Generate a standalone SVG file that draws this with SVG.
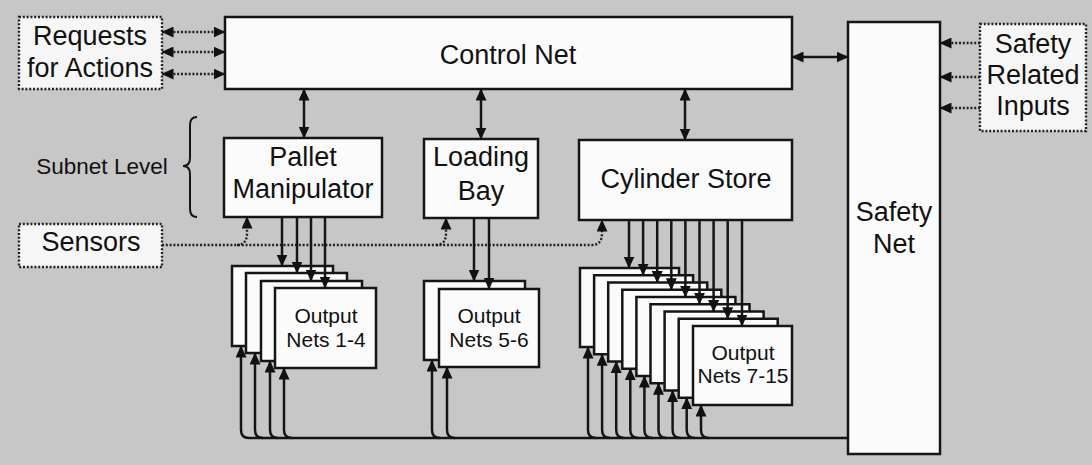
<svg xmlns="http://www.w3.org/2000/svg" width="1092" height="465" viewBox="0 0 1092 465">
<defs>
<marker id="ah" viewBox="0 0 12 11" refX="11.5" refY="5.5" markerWidth="12" markerHeight="11" markerUnits="userSpaceOnUse" orient="auto-start-reverse">
<path d="M0,0 L12,5.5 L0,11 z" fill="#111"/>
</marker>
<style>
.box{fill:#fbfbfb;stroke:#151515;stroke-width:2.5}
.dbox{fill:#f6f6f6;stroke:#222;stroke-width:2.4;stroke-dasharray:2 1.8}
.ln{fill:none;stroke:#151515;stroke-width:2.5}
.dl{fill:none;stroke:#222;stroke-width:2.4;stroke-dasharray:2 1.8}
.t{font-family:"Liberation Sans",Arial,sans-serif;font-size:27px;fill:#111;text-anchor:middle}
.s{font-family:"Liberation Sans",Arial,sans-serif;font-size:21px;fill:#111;text-anchor:middle}
</style>
</defs>
<rect x="0" y="0" width="1092" height="465" fill="#c7c7c7"/>

<g id="control-net"><rect class="box" x="225" y="17" width="567" height="72"/><text class="t" x="508" y="64">Control Net</text></g>
<g id="safety-net"><rect class="box" x="848" y="22" width="92" height="432"/><text class="t" x="894" y="221">Safety</text><text class="t" x="894" y="253">Net</text></g>
<g id="requests"><rect class="dbox" x="19" y="17" width="143" height="72"/><text class="t" x="90" y="45">Requests</text><text class="t" x="90" y="77">for Actions</text></g>
<g id="safety-inputs"><rect class="dbox" x="980" y="24" width="106" height="107"/><text class="t" x="1033" y="53">Safety</text><text class="t" x="1033" y="84">Related</text><text class="t" x="1033" y="115">Inputs</text></g>
<g id="sensors"><rect class="dbox" x="19" y="224" width="143" height="43"/><text class="t" x="91" y="251">Sensors</text></g>
<g id="subnet-level"><text class="t" style="font-size:22.5px" x="102" y="174">Subnet Level</text><path class="ln" style="stroke-width:2" d="M197 117 Q190 117 190 125 V158 Q190 166 183 166 Q190 166 190 174 V209 Q190 217 197 217"/></g>
<g id="pallet"><rect class="box" x="224" y="138" width="158" height="79"/><text class="t" x="303" y="166">Pallet</text><text class="t" x="303" y="198">Manipulator</text></g>
<g id="loading-bay"><rect class="box" x="424" y="139" width="114" height="79"/><text class="t" x="481" y="166">Loading</text><text class="t" x="481" y="200">Bay</text></g>
<g id="cylinder-store"><rect class="box" x="579" y="140" width="213" height="80"/><text class="t" x="686" y="188">Cylinder Store</text></g>

<g id="output-1-4">
<rect class="box" x="232" y="266" width="101" height="80"/>
<rect class="box" x="246" y="273" width="101" height="80"/>
<rect class="box" x="261" y="281" width="101" height="80"/>
<rect class="box" x="275" y="288" width="101" height="80"/>
<text class="s" x="326" y="323">Output</text><text class="s" x="326" y="347">Nets 1-4</text>
</g>
<g id="output-5-6">
<rect class="box" x="424" y="281" width="101" height="79"/>
<rect class="box" x="439" y="289" width="100" height="78"/>
<text class="s" x="489" y="323">Output</text><text class="s" x="489" y="347">Nets 5-6</text>
</g>
<g id="output-7-15">
<rect class="box" x="580" y="268" width="99" height="79"/>
<rect class="box" x="594.1" y="275.25" width="99" height="79"/>
<rect class="box" x="608.2" y="282.5" width="99" height="79"/>
<rect class="box" x="622.3" y="289.75" width="99" height="79"/>
<rect class="box" x="636.4" y="297" width="99" height="79"/>
<rect class="box" x="650.5" y="304.25" width="99" height="79"/>
<rect class="box" x="664.6" y="311.5" width="99" height="79"/>
<rect class="box" x="678.7" y="318.75" width="99" height="79"/>
<rect class="box" x="693" y="326" width="99" height="79"/>
<text class="s" x="743" y="360">Output</text><text class="s" x="743" y="383">Nets 7-15</text>
</g>

<g id="connectors">
<path class="ln" d="M304 89 V138" marker-start="url(#ah)" marker-end="url(#ah)"/>
<path class="ln" d="M481 89 V139" marker-start="url(#ah)" marker-end="url(#ah)"/>
<path class="ln" d="M685 89 V140" marker-start="url(#ah)" marker-end="url(#ah)"/>
<path class="ln" d="M792 57 H848" marker-start="url(#ah)" marker-end="url(#ah)"/>
<path class="dl" d="M162 32 H225" marker-start="url(#ah)" marker-end="url(#ah)"/>
<path class="dl" d="M162 52 H225" marker-start="url(#ah)" marker-end="url(#ah)"/>
<path class="dl" d="M162 74 H225" marker-start="url(#ah)" marker-end="url(#ah)"/>
<path class="dl" d="M980 43 H940" marker-end="url(#ah)"/>
<path class="dl" d="M980 77 H940" marker-end="url(#ah)"/>
<path class="dl" d="M980 108 H940" marker-end="url(#ah)"/>
<path class="dl" d="M162 245 H592 Q602 245 602 233 V220" marker-end="url(#ah)"/>
<path class="dl" d="M237 245 Q247 245 247 233 V217" marker-end="url(#ah)"/>
<path class="dl" d="M436 245 Q446 245 446 233 V218" marker-end="url(#ah)"/>
<path class="ln" d="M282 217 V266" marker-end="url(#ah)"/>
<path class="ln" d="M297 217 V273" marker-end="url(#ah)"/>
<path class="ln" d="M311 217 V281" marker-end="url(#ah)"/>
<path class="ln" d="M325 217 V288" marker-end="url(#ah)"/>
<path class="ln" d="M474 218 V281" marker-end="url(#ah)"/>
<path class="ln" d="M489 218 V289" marker-end="url(#ah)"/>
<path class="ln" d="M629 220 V268" marker-end="url(#ah)"/>
<path class="ln" d="M643.1 220 V275.25" marker-end="url(#ah)"/>
<path class="ln" d="M657.2 220 V282.5" marker-end="url(#ah)"/>
<path class="ln" d="M671.3 220 V289.75" marker-end="url(#ah)"/>
<path class="ln" d="M685.4 220 V297" marker-end="url(#ah)"/>
<path class="ln" d="M699.5 220 V304.25" marker-end="url(#ah)"/>
<path class="ln" d="M713.6 220 V311.5" marker-end="url(#ah)"/>
<path class="ln" d="M727.7 220 V318.75" marker-end="url(#ah)"/>
<path class="ln" d="M742 220 V326" marker-end="url(#ah)"/>
<path class="ln" d="M848 438 H249"/>
<path class="ln" d="M249 438 Q241 438 241 430 V346" marker-end="url(#ah)"/>
<path class="ln" d="M263 438 Q255 438 255 430 V353" marker-end="url(#ah)"/>
<path class="ln" d="M278 438 Q270 438 270 430 V361" marker-end="url(#ah)"/>
<path class="ln" d="M292 438 Q284 438 284 430 V368" marker-end="url(#ah)"/>
<path class="ln" d="M440 438 Q432 438 432 430 V360" marker-end="url(#ah)"/>
<path class="ln" d="M455 438 Q447 438 447 430 V367" marker-end="url(#ah)"/>
<path class="ln" d="M596 438 Q588 438 588 430 V347" marker-end="url(#ah)"/>
<path class="ln" d="M610.1 438 Q602.1 438 602.1 430 V354.25" marker-end="url(#ah)"/>
<path class="ln" d="M624.2 438 Q616.2 438 616.2 430 V361.5" marker-end="url(#ah)"/>
<path class="ln" d="M638.3 438 Q630.3 438 630.3 430 V368.75" marker-end="url(#ah)"/>
<path class="ln" d="M652.4 438 Q644.4 438 644.4 430 V376" marker-end="url(#ah)"/>
<path class="ln" d="M666.5 438 Q658.5 438 658.5 430 V383.25" marker-end="url(#ah)"/>
<path class="ln" d="M680.6 438 Q672.6 438 672.6 430 V390.5" marker-end="url(#ah)"/>
<path class="ln" d="M694.7 438 Q686.7 438 686.7 430 V397.75" marker-end="url(#ah)"/>
<path class="ln" d="M709 438 Q701 438 701 430 V405" marker-end="url(#ah)"/>
</g>
</svg>
